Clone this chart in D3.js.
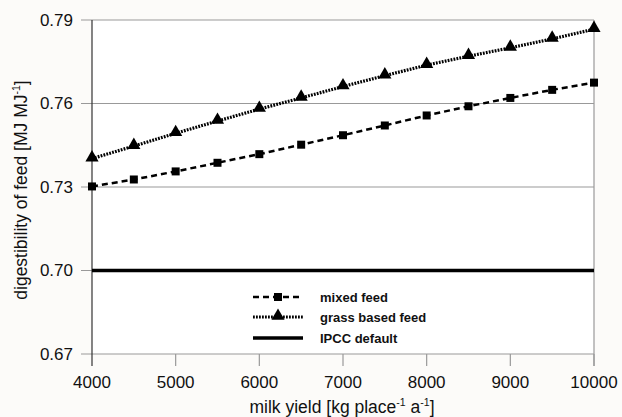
<!DOCTYPE html>
<html><head><meta charset="utf-8">
<script src="https://cdn.jsdelivr.net/npm/d3@7"></script>
<style>
html,body{margin:0;padding:0;background:#fcfbf9;}
svg{display:block;font-family:"Liberation Sans",Arial,sans-serif;}
</style></head>
<body><svg id="c" width="622" height="417"></svg>
<script>
const milkYield = [4000,4500,5000,5500,6000,6500,7000,7500,8000,8500,9000,9500,10000];
const mixedFeed = [0.7302,0.7327,0.7356,0.7387,0.7418,0.7452,0.7486,0.7521,0.7557,0.7590,0.7620,0.7649,0.7675];
const grassFeed = [0.7402,0.7447,0.7493,0.7537,0.7580,0.7620,0.7661,0.7700,0.7738,0.7770,0.7800,0.7832,0.7867];
const ipccDefault = 0.70;
const xTicks = [4000,5000,6000,7000,8000,9000,10000];
const yTicks = [0.67,0.70,0.73,0.76,0.79];
const legendLabels = ["mixed feed","grass based feed","IPCC default"];

const svg = d3.select("#c");
const L=92, R=594, T=20, B=354;
const x = d3.scaleLinear().domain([4000,10000]).range([L,R]);
const y = d3.scaleLinear().domain([0.67,0.79]).range([B,T]);

svg.append("rect").attr("x",L).attr("y",T).attr("width",R-L).attr("height",B-T).attr("fill","#fff");

svg.append("g").selectAll("line").data(yTicks).join("line")
  .attr("x1",L-11).attr("x2",R).attr("y1",d=>y(d)).attr("y2",d=>y(d))
  .attr("stroke","#999").attr("stroke-width",1.2);
svg.append("line").attr("x1",R).attr("x2",R).attr("y1",T).attr("y2",B+12).attr("stroke","#999").attr("stroke-width",1.2);
svg.append("g").selectAll("line").data(xTicks.slice(1)).join("line")
  .attr("x1",d=>x(d)).attr("x2",d=>x(d)).attr("y1",B).attr("y2",B+12)
  .attr("stroke","#999").attr("stroke-width",1.2);
svg.append("line").attr("x1",L).attr("x2",L).attr("y1",T).attr("y2",B+12).attr("stroke","#333").attr("stroke-width",1.2);

svg.append("g").selectAll("text").data(yTicks).join("text")
  .attr("x",73).attr("y",d=>y(d)).attr("dy","0.35em").attr("text-anchor","end")
  .attr("font-size",17).attr("fill","#111").text(d=>d3.format(".2f")(d));
svg.append("g").selectAll("text").data(xTicks).join("text")
  .attr("x",d=>x(d)).attr("y",382).attr("dy","0.35em").attr("text-anchor","middle")
  .attr("font-size",17).attr("fill","#111").text(d=>d);

const xt = svg.append("text").attr("x",342).attr("y",413).attr("text-anchor","middle").attr("font-size",17.5).attr("fill","#111");
xt.append("tspan").text("milk yield [kg place");
xt.append("tspan").attr("dy",-7).attr("font-size",10.5).text("-1");
xt.append("tspan").attr("dy",7).text(" a");
xt.append("tspan").attr("dy",-7).attr("font-size",10.5).text("-1");
xt.append("tspan").attr("dy",7).text("]");

const yt = svg.append("text").attr("transform","translate(27,190) rotate(-90)").attr("text-anchor","middle").attr("font-size",17.5).attr("fill","#111");
yt.append("tspan").text("digestibility of feed [MJ MJ");
yt.append("tspan").attr("dy",-7).attr("font-size",10.5).text("-1");
yt.append("tspan").attr("dy",7).text("]");

svg.append("line").attr("x1",x(4000)).attr("x2",x(10000)).attr("y1",y(ipccDefault)).attr("y2",y(ipccDefault))
  .attr("stroke","#000").attr("stroke-width",3.5);

const line = d3.line().x((d,i)=>x(milkYield[i])).y(d=>y(d));
svg.append("path").datum(mixedFeed).attr("d",line).attr("fill","none").attr("stroke","#000")
  .attr("stroke-width",2.5).attr("stroke-dasharray","6,4");
svg.append("path").datum(grassFeed).attr("d",line).attr("fill","none").attr("stroke","#000")
  .attr("stroke-width",3.2).attr("stroke-dasharray","1.8,1.2");

const sq = d3.symbol().type(d3.symbolSquare).size(64);
const tri = d3.symbol().type(d3.symbolTriangle).size(75);
svg.append("g").selectAll("path").data(mixedFeed).join("path")
  .attr("d",sq).attr("transform",(d,i)=>`translate(${x(milkYield[i])},${y(d)})`).attr("fill","#000");
svg.append("g").selectAll("path").data(grassFeed).join("path")
  .attr("d",tri).attr("transform",(d,i)=>`translate(${x(milkYield[i])},${y(d)-1})`).attr("fill","#000");

const lg = svg.append("g");
const ly = [297,317,338];
lg.append("line").attr("x1",253).attr("x2",303).attr("y1",ly[0]).attr("y2",ly[0]).attr("stroke","#000").attr("stroke-width",2.5).attr("stroke-dasharray","6,4");
lg.append("path").attr("d",sq).attr("transform",`translate(278,${ly[0]})`);
lg.append("line").attr("x1",253).attr("x2",303).attr("y1",ly[1]).attr("y2",ly[1]).attr("stroke","#000").attr("stroke-width",3.2).attr("stroke-dasharray","1.8,1.2");
lg.append("path").attr("d",tri).attr("transform",`translate(278,${ly[1]-1})`);
lg.append("line").attr("x1",253).attr("x2",303).attr("y1",ly[2]).attr("y2",ly[2]).attr("stroke","#000").attr("stroke-width",3.5);
lg.selectAll("text").data(legendLabels).join("text")
  .attr("x",320).attr("y",(d,i)=>ly[i]).attr("dy","0.35em").attr("font-size",13).attr("font-weight","bold").attr("fill","#111").text(d=>d);
</script></body></html>
